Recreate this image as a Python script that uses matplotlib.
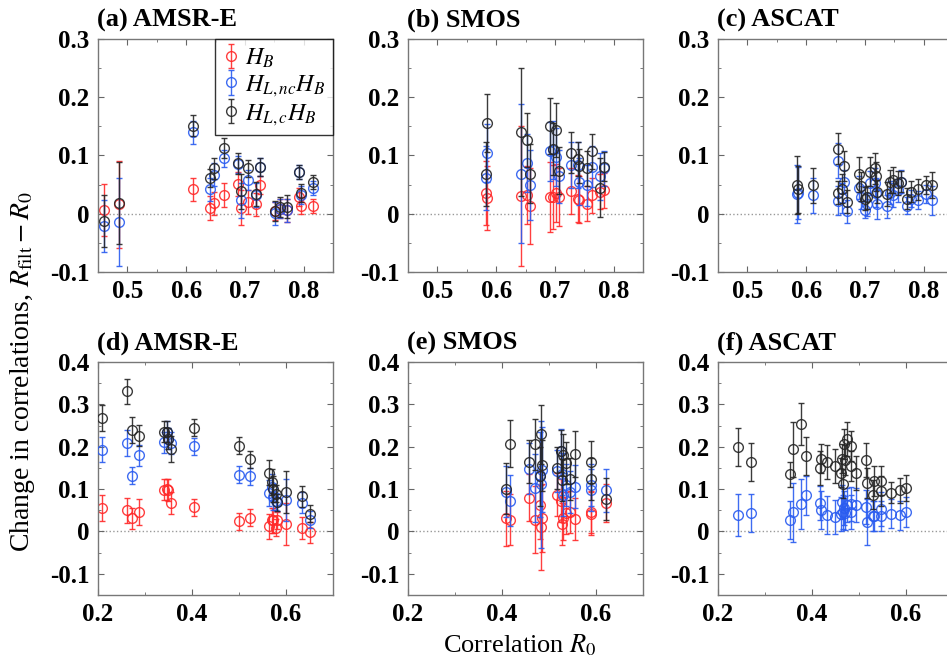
import numpy as np
import matplotlib
matplotlib.use('Agg')
import matplotlib.pyplot as plt
from matplotlib.ticker import MultipleLocator, FuncFormatter

plt.rcParams['font.family'] = ['Liberation Serif', 'DejaVu Serif']
plt.rcParams['mathtext.fontset'] = 'stix'

# ---- data ------------------------------------------------------------
# (a) AMSR-E, top row
a_x = [0.460, 0.486, 0.611, 0.640, 0.648, 0.665, 0.689, 0.693, 0.705, 0.719,
       0.726, 0.751, 0.760, 0.772, 0.792, 0.796, 0.816]
a_red = [0.006, 0.016, 0.042, 0.010, 0.018, 0.032, 0.051, 0.010, 0.020, 0.016,
         0.049, 0.005, 0.009, 0.006, 0.029, 0.014, 0.014]
a_red_err = [0.045, 0.075, 0.020, 0.020, 0.020, 0.020, 0.020, 0.030, 0.020, 0.020,
             0.015, 0.015, 0.017, 0.020, 0.015, 0.015, 0.012]
a_blue = [-0.021, -0.014, 0.140, 0.042, 0.067, 0.095, 0.085, 0.023, 0.058, 0.032,
          0.080, 0.001, 0.009, 0.006, 0.072, 0.032, 0.045]
a_blue_err = [0.045, 0.075, 0.020, 0.020, 0.020, 0.015, 0.015, 0.030, 0.017, 0.020,
              0.015, 0.020, 0.017, 0.020, 0.012, 0.015, 0.012]
a_black = [-0.012, 0.018, 0.151, 0.061, 0.078, 0.113, 0.087, 0.039, 0.078, 0.034,
           0.080, 0.005, 0.012, 0.012, 0.072, 0.036, 0.055]
a_black_err = [0.045, 0.070, 0.018, 0.015, 0.018, 0.017, 0.018, 0.030, 0.015, 0.020,
               0.015, 0.017, 0.017, 0.020, 0.012, 0.015, 0.012]

# (b) SMOS, top row
b_x = [0.582, 0.584, 0.642, 0.653, 0.658, 0.692, 0.696, 0.702, 0.707, 0.728,
       0.739, 0.741, 0.754, 0.763, 0.776, 0.784]
b_red = [0.035, 0.027, 0.030, 0.032, 0.013, 0.029, 0.029, 0.036, 0.029, 0.039,
         0.026, 0.024, 0.017, 0.032, 0.038, 0.040]
b_red_err = [0.055, 0.055, 0.120, 0.050, 0.065, 0.060, 0.055, 0.050, 0.050, 0.040,
             0.040, 0.040, 0.030, 0.030, 0.030, 0.030]
b_blue = [0.061, 0.104, 0.069, 0.087, 0.049, 0.107, 0.110, 0.098, 0.064, 0.084,
          0.084, 0.055, 0.049, 0.081, 0.064, 0.078]
b_blue_err = [0.055, 0.050, 0.120, 0.050, 0.060, 0.050, 0.050, 0.050, 0.045, 0.040,
              0.040, 0.040, 0.035, 0.035, 0.040, 0.030]
b_black = [0.068, 0.156, 0.140, 0.127, 0.069, 0.150, 0.111, 0.144, 0.074, 0.105,
           0.094, 0.082, 0.078, 0.107, 0.045, 0.081]
b_black_err = [0.055, 0.050, 0.110, 0.046, 0.050, 0.048, 0.045, 0.046, 0.040, 0.035,
               0.030, 0.030, 0.030, 0.030, 0.050, 0.025]

# (c) ASCAT, top row (no H_B series)
c_x = [0.585, 0.587, 0.612, 0.654, 0.655, 0.661, 0.664, 0.669, 0.690, 0.694,
       0.700, 0.704, 0.709, 0.718, 0.719, 0.721, 0.737, 0.743, 0.748, 0.757,
       0.761, 0.771, 0.779, 0.790, 0.804, 0.814]
c_blue = [0.034, 0.036, 0.032, 0.091, 0.022, 0.027, 0.055, 0.004, 0.045, 0.028,
          0.007, 0.016, 0.053, 0.053, 0.036, 0.016, 0.013, 0.036, 0.032, 0.040,
          0.055, 0.014, 0.026, 0.024, 0.034, 0.023]
c_blue_err = [0.050, 0.045, 0.030, 0.030, 0.025, 0.025, 0.020, 0.020, 0.020, 0.020,
              0.015, 0.020, 0.020, 0.025, 0.025, 0.025, 0.020, 0.020, 0.020, 0.020,
              0.020, 0.015, 0.015, 0.015, 0.015, 0.025]
c_black = [0.049, 0.042, 0.049, 0.112, 0.036, 0.043, 0.082, 0.021, 0.068, 0.047,
           0.026, 0.028, 0.072, 0.078, 0.064, 0.038, 0.034, 0.055, 0.058, 0.053,
           0.055, 0.026, 0.038, 0.042, 0.049, 0.049]
c_black_err = [0.050, 0.040, 0.030, 0.027, 0.020, 0.025, 0.025, 0.020, 0.030, 0.025,
               0.020, 0.020, 0.025, 0.027, 0.025, 0.020, 0.020, 0.020, 0.022, 0.020,
               0.018, 0.018, 0.018, 0.018, 0.015, 0.022]

# (d) AMSR-E, bottom row
d_x = [0.209, 0.261, 0.273, 0.288, 0.341, 0.347, 0.349, 0.356, 0.404, 0.501,
       0.523, 0.564, 0.570, 0.573, 0.578, 0.580, 0.599, 0.633, 0.651]
d_red = [0.055, 0.050, 0.031, 0.046, 0.099, 0.100, 0.098, 0.067, 0.057, 0.024,
         0.032, 0.012, 0.026, 0.026, 0.009, 0.026, 0.018, 0.008, -0.002]
d_red_err = [0.030, 0.030, 0.025, 0.030, 0.025, 0.025, 0.025, 0.025, 0.020, 0.020,
             0.020, 0.030, 0.030, 0.030, 0.020, 0.020, 0.050, 0.025, 0.025]
d_blue = [0.193, 0.209, 0.131, 0.180, 0.210, 0.235, 0.219, 0.209, 0.201, 0.134,
          0.130, 0.091, 0.105, 0.081, 0.071, 0.069, 0.075, 0.068, 0.028]
d_blue_err = [0.030, 0.030, 0.020, 0.025, 0.025, 0.025, 0.025, 0.025, 0.020, 0.020,
              0.020, 0.030, 0.030, 0.030, 0.020, 0.020, 0.050, 0.025, 0.020]
d_black = [0.268, 0.331, 0.239, 0.226, 0.235, 0.235, 0.219, 0.195, 0.245, 0.202,
           0.170, 0.139, 0.117, 0.100, 0.089, 0.069, 0.093, 0.083, 0.042]
d_black_err = [0.030, 0.030, 0.030, 0.025, 0.025, 0.025, 0.025, 0.030, 0.020, 0.020,
               0.020, 0.030, 0.030, 0.030, 0.020, 0.020, 0.050, 0.025, 0.020]

# (e) SMOS, bottom row
e_x = [0.408, 0.418, 0.458, 0.471, 0.480, 0.484, 0.486, 0.516, 0.525, 0.527,
       0.530, 0.537, 0.544, 0.555, 0.589, 0.590, 0.621]
e_red = [0.031, 0.028, 0.080, 0.028, 0.063, 0.010, 0.032, 0.087, 0.073, 0.018,
         0.031, 0.043, 0.046, 0.029, 0.042, 0.046, 0.067]
e_red_err = [0.065, 0.060, 0.055, 0.080, 0.080, 0.100, 0.080, 0.050, 0.050, 0.050,
             0.050, 0.050, 0.050, 0.050, 0.050, 0.050, 0.045]
e_blue = [0.094, 0.073, 0.148, 0.102, 0.134, 0.111, 0.146, 0.142, 0.191, 0.135,
          0.087, 0.109, 0.093, 0.106, 0.098, 0.109, 0.097]
e_blue_err = [0.060, 0.060, 0.060, 0.080, 0.100, 0.150, 0.100, 0.050, 0.050, 0.050,
              0.050, 0.050, 0.050, 0.050, 0.050, 0.050, 0.050]
e_black = [0.101, 0.207, 0.165, 0.206, 0.130, 0.229, 0.156, 0.150, 0.190, 0.122,
           0.180, 0.161, 0.124, 0.183, 0.164, 0.124, 0.077]
e_black_err = [0.060, 0.055, 0.050, 0.060, 0.070, 0.070, 0.060, 0.050, 0.050, 0.050,
               0.050, 0.050, 0.050, 0.055, 0.050, 0.050, 0.050]

# (f) ASCAT, bottom row (no H_B series)
f_x = [0.243, 0.271, 0.354, 0.359, 0.376, 0.388, 0.416, 0.420, 0.431, 0.448,
       0.461, 0.464, 0.466, 0.468, 0.470, 0.475, 0.482, 0.483, 0.493, 0.514,
       0.518, 0.529, 0.532, 0.546, 0.547, 0.568, 0.587, 0.600]
f_blue = [0.039, 0.044, 0.028, 0.045, 0.065, 0.085, 0.067, 0.051, 0.039, 0.035,
          0.042, 0.069, 0.046, 0.055, 0.044, 0.062, 0.046, 0.065, 0.062, 0.057,
          0.022, 0.036, 0.036, 0.052, 0.036, 0.042, 0.038, 0.046]
f_blue_err = [0.050, 0.045, 0.045, 0.070, 0.060, 0.045, 0.040, 0.045, 0.045, 0.040,
              0.040, 0.040, 0.040, 0.040, 0.040, 0.040, 0.040, 0.040, 0.040, 0.040,
              0.055, 0.035, 0.035, 0.040, 0.035, 0.035, 0.035, 0.035]
f_black = [0.199, 0.164, 0.135, 0.194, 0.253, 0.178, 0.150, 0.172, 0.164, 0.154,
           0.139, 0.172, 0.113, 0.206, 0.168, 0.218, 0.201, 0.154, 0.139, 0.168,
           0.114, 0.087, 0.119, 0.120, 0.095, 0.091, 0.097, 0.103]
f_black_err = [0.045, 0.045, 0.030, 0.065, 0.050, 0.045, 0.040, 0.035, 0.040, 0.040,
               0.035, 0.035, 0.035, 0.035, 0.035, 0.040, 0.035, 0.035, 0.040, 0.040,
               0.035, 0.035, 0.035, 0.035, 0.035, 0.025, 0.030, 0.030]

titles = ['(a) AMSR-E', '(b) SMOS', '(c) ASCAT', '(d) AMSR-E', '(e) SMOS', '(f) ASCAT']
labels = [r'$H_B$', r'$H_{L,nc}H_B$', r'$H_{L,c}H_B$']
colors = ['#ff2a2a', '#2a5cf0', '#262626']

panels = [
    (a_x, [(a_red, a_red_err), (a_blue, a_blue_err), (a_black, a_black_err)]),
    (b_x, [(b_red, b_red_err), (b_blue, b_blue_err), (b_black, b_black_err)]),
    (c_x, [None, (c_blue, c_blue_err), (c_black, c_black_err)]),
    (d_x, [(d_red, d_red_err), (d_blue, d_blue_err), (d_black, d_black_err)]),
    (e_x, [(e_red, e_red_err), (e_blue, e_blue_err), (e_black, e_black_err)]),
    (f_x, [None, (f_blue, f_blue_err), (f_black, f_black_err)]),
]

# ---- figure ------------------------------------------------------------
fig = plt.figure(figsize=(9.47, 6.63), dpi=100)
W, H = 947.0, 663.0
lefts = [98, 408, 718]
w_ax, h_ax = 235, 233
bottoms = [663 - 272, 663 - 595]


def fmt(v, pos):
    return '%g' % round(v, 2)


for i, (xs, series) in enumerate(panels):
    row, col = divmod(i, 3)
    ax = fig.add_axes([lefts[col] / W, bottoms[row] / H, w_ax / W, h_ax / H])
    if row == 0:
        ax.set_xlim(0.45, 0.85)
        ax.set_ylim(-0.1, 0.3)
        ax.xaxis.set_major_locator(MultipleLocator(0.1))
        ax.xaxis.set_minor_locator(MultipleLocator(0.05))
    else:
        ax.set_xlim(0.2, 0.7)
        ax.set_ylim(-0.15, 0.4)
        ax.xaxis.set_major_locator(MultipleLocator(0.2))
        ax.xaxis.set_minor_locator(MultipleLocator(0.1))
    ax.yaxis.set_major_locator(MultipleLocator(0.1))
    ax.yaxis.set_minor_locator(MultipleLocator(0.05))
    ax.xaxis.set_major_formatter(FuncFormatter(fmt))
    ax.yaxis.set_major_formatter(FuncFormatter(fmt))
    ax.tick_params(which='both', direction='in', top=True, right=True,
                   color='#666666', labelsize=18, pad=6)
    ax.tick_params(which='major', length=4)
    ax.tick_params(which='minor', length=2.5)
    for lab in ax.get_xticklabels() + ax.get_yticklabels():
        lab.set_fontweight('bold')
    for sp in ax.spines.values():
        sp.set_color('#777777')
        sp.set_linewidth(1.0)

    ax.axhline(0, color='#999999', ls=':', lw=1, zorder=1)

    handles = []
    for k, s in enumerate(series):
        if s is None:
            continue
        ys, es = s
        h = ax.errorbar(xs, ys, yerr=es, fmt='o', mfc='none', mec=colors[k],
                        ms=7, mew=1.0, ecolor=colors[k], elinewidth=1.0,
                        capsize=2, capthick=1.0, alpha=0.9, zorder=2 + k,
                        label=labels[k])
        handles.append(h)

    ax.text(-0.005, 1.03, titles[i], transform=ax.transAxes, ha='left',
            va='bottom', fontsize=19, fontweight='bold')

    if i == 0:
        leg = ax.legend(handles=handles, loc='upper right', fontsize=17.5,
                        frameon=True, fancybox=False, borderaxespad=0,
                        handlelength=0.7, handletextpad=0.25, labelspacing=0.15,
                        borderpad=0.3)
        leg.get_frame().set_edgecolor('black')
        leg.get_frame().set_linewidth(1.0)

fig.text(0.024, 0.44, r'Change in correlations, $R_{\mathrm{filt}} - R_0$',
         rotation=90, ha='center', va='center', fontsize=20)
fig.text(0.549, 0.027, r'Correlation $R_0$', ha='center', va='center',
         fontsize=19)

fig.savefig('out.png', dpi=100)
